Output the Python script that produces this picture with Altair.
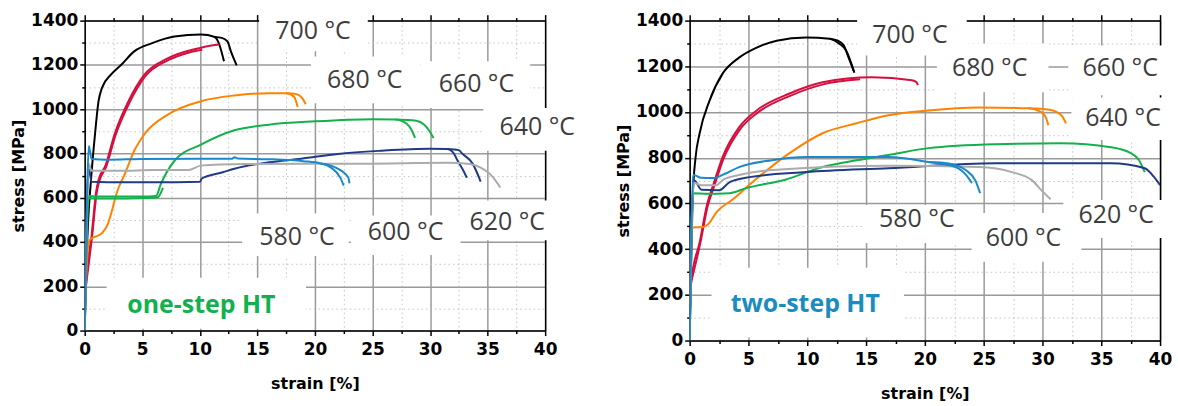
import altair as alt
import pandas as pd

# ---------------- axis ticks ----------------
x_ticks = [0, 2.5, 5, 7.5, 10, 12.5, 15, 17.5, 20, 22.5, 25, 27.5, 30, 32.5, 35, 37.5, 40]
y_ticks = [0, 100, 200, 300, 400, 500, 600, 700, 800, 900, 1000, 1100, 1200, 1300, 1400]

temps = ["700 °C", "680 °C", "660 °C", "640 °C", "620 °C", "600 °C", "580 °C"]
colors_one = ["#000000", "#d4103f", "#ff8200", "#14b04c", "#1f3a86", "#ababab", "#1a88cc"]
colors_two = ["#000000", "#d60b40", "#f8a21e", "#12ad4a", "#213b87", "#8a8a8a", "#1b98d5"]

# ---------------- one-step HT curves ----------------
o700_x = [0.0, 0.15, 0.3, 0.5, 0.9, 1.2, 1.5, 2.3, 3.2, 4.3, 5.8, 7.8, 10.1, 11.3, 11.7, 12.1]
o700_y = [0, 300, 500, 650, 890, 1036, 1096, 1157, 1202, 1261, 1297, 1328, 1337, 1326, 1291, 1216]
o700b_x = [11.3, 11.9, 12.4, 12.7, 13.2]
o700b_y = [1326, 1322, 1306, 1261, 1198]

o680_x = [0.05, 0.15, 0.6, 1.0, 1.2, 1.8, 2.6, 3.8, 5.2, 7.2, 9.8, 11.0, 11.7]
o680_y = [150, 235, 430, 630, 680, 745, 888, 1036, 1157, 1229, 1274, 1288, 1292]
o680b_x = [0.1, 0.65, 1.05, 1.25, 1.85, 2.65, 3.85, 5.25, 7.25, 9.0, 10.2]
o680b_y = [200, 430, 625, 672, 738, 878, 1025, 1148, 1221, 1255, 1268]

o660_x = [0.05, 0.35, 0.6, 1.0, 1.5, 2.0, 2.3, 2.8, 3.5, 4.3, 5.2, 7.3, 10.1, 13.0, 16.0, 17.5, 18.2, 18.5]
o660_y = [150, 400, 417, 425, 440, 480, 529, 625, 709, 812, 888, 978, 1036, 1062, 1072, 1072, 1055, 1010]
o660b_x = [17.5, 18.4, 18.9, 19.2]
o660b_y = [1072, 1068, 1050, 1022]

o640_x = [0.0, 0.2, 0.35, 1.0, 3.0, 5.0, 6.2, 6.6, 7.8, 10.1, 13.0, 16.0, 20.0, 25.0, 27.0, 28.0, 28.4, 28.7]
o640_y = [0, 450, 608, 605, 605, 605, 608, 660, 767, 840, 905, 930, 945, 955, 953, 933, 905, 870]
o640b_x = [27.0, 28.8, 29.5, 29.9, 30.3]
o640b_y = [953, 948, 930, 905, 870]
o640c_x = [0.3, 2.5, 4.5, 6.3, 6.8]
o640c_y = [598, 596, 598, 601, 645]

o620_x = [0.0, 0.2, 0.35, 0.6, 2.0, 5.0, 8.0, 10.0, 10.2, 12.0, 13.0, 16.0, 18.8, 22.0, 25.7, 30.0, 31.5, 32.0, 32.4, 32.9, 33.2]
o620_y = [0, 600, 730, 672, 670, 670, 670, 672, 688, 715, 731, 760, 776, 798, 812, 821, 820, 805, 767, 722, 690]
o620b_x = [31.5, 32.5, 32.8, 33.7, 34.4]
o620b_y = [820, 815, 799, 754, 673]

o600_x = [0.0, 0.2, 0.35, 0.6, 3.0, 6.0, 9.0, 10.1, 14.0, 18.8, 24.0, 31.5, 33.5, 34.4, 35.5, 36.1]
o600_y = [0, 550, 754, 722, 722, 725, 725, 745, 752, 754, 754, 758, 752, 736, 691, 646]

o580_x = [0.0, 0.2, 0.35, 0.6, 2.0, 5.0, 10.0, 12.8, 13.0, 13.3, 16.0, 19.0, 20.5, 21.4, 22.2, 22.5]
o580_y = [0, 600, 834, 775, 772, 775, 776, 776, 783, 777, 774, 765, 755, 736, 691, 655]
o580b_x = [20.5, 21.8, 22.9, 23.0]
o580b_y = [755, 736, 691, 665]

# ---------------- two-step HT curves ----------------
t700_x = [0.0, 0.1, 0.25, 0.5, 0.85, 1.7, 2.8, 4.2, 5.7, 7.4, 9.9, 11.9, 12.7, 13.3, 14.0]
t700_y = [0, 300, 615, 800, 907, 1051, 1168, 1238, 1282, 1312, 1326, 1321, 1300, 1269, 1173]
t700b_x = [11.9, 12.6, 13.1, 13.5, 14.0]
t700b_y = [1321, 1312, 1292, 1240, 1173]

t680_x = [0.05, 0.15, 0.85, 1.5, 2.0, 2.8, 4.2, 5.7, 8.5, 11.3, 15.5, 18.9, 19.3, 19.4]
t680_y = [150, 266, 430, 600, 680, 803, 933, 1007, 1081, 1130, 1152, 1139, 1130, 1117]
t680b_x = [0.1, 0.9, 1.55, 2.05, 2.85, 4.25, 5.75, 8.55, 11.35, 14.5]
t680b_y = [250, 425, 592, 670, 792, 922, 996, 1071, 1121, 1143]

t660_x = [0.0, 0.1, 0.3, 1.1, 1.6, 2.3, 3.6, 5.5, 8.5, 11.3, 14.2, 16.9, 20.3, 24.6, 28.8, 29.9, 30.3, 30.5]
t660_y = [160, 450, 495, 497, 510, 563, 615, 700, 820, 907, 951, 986, 1007, 1020, 1016, 1000, 975, 942]
t660b_x = [28.8, 30.6, 31.6, 32.0]
t660b_y = [1016, 1010, 986, 951]

t640_x = [0.0, 0.15, 0.3, 1.5, 3.4, 4.8, 8.2, 11.3, 14.2, 16.9, 20.3, 26.0, 31.6, 35.8, 37.5, 38.2, 38.7]
t640_y = [0, 500, 645, 642, 645, 667, 705, 759, 789, 812, 842, 859, 863, 846, 820, 790, 737]

t620_x = [0.0, 0.2, 0.4, 1.0, 2.5, 3.4, 5.1, 9.9, 16.9, 26.0, 35.8, 38.7, 39.5, 40.0]
t620_y = [0, 550, 700, 660, 658, 693, 715, 737, 754, 776, 776, 754, 715, 680]

t600_x = [0.0, 0.2, 0.35, 1.0, 2.3, 2.8, 4.2, 7.0, 16.9, 24.6, 27.4, 29.1, 29.9, 30.7]
t600_y = [0, 550, 690, 680, 680, 702, 724, 746, 765, 759, 737, 702, 658, 618]

t580_x = [0.0, 0.15, 0.3, 1.0, 2.0, 3.0, 4.2, 7.0, 9.9, 16.9, 20.3, 22.6, 23.5, 24.0]
t580_y = [0, 500, 725, 712, 711, 730, 759, 789, 803, 803, 781, 759, 725, 689]
t580b_x = [20.3, 22.0, 23.5, 24.3, 24.7]
t580b_y = [781, 775, 745, 700, 645]

# ---------------- labels (order of temps) and label boxes ----------------
one_lab_x = [19.83, 24.33, 34.03, 39.31, 36.71, 27.88, 18.44]
one_lab_y = [1352, 1131, 1113, 920, 489, 444, 422]
one_box_x1 = [15.15, 19.65, 29.18, 34.63, 13.68, 23.12, 32.64, 1.90]
one_box_x2 = [24.59, 29.18, 38.70, 44.07, 22.94, 32.64, 41.47, 19.22]
one_box_y1 = [1262, 1027, 1005, 812, 337, 341, 408, 8]
one_box_y2 = [1485, 1238, 1216, 1005, 529, 520, 588, 238]
one_ht = ["one-step HT", 10.13, 117, "#12b04e"]

two_lab_x = [18.73, 25.51, 36.61, 36.86, 36.27, 28.39, 19.32]
two_lab_y = [1339, 1191, 1191, 973, 549, 449, 532]
two_box_x1 = [14.24, 21.02, 32.2, 32.46, 14.83, 23.98, 31.78, 1.86]
two_box_x2 = [23.56, 30.51, 41.5, 41.5, 24.15, 33.31, 41.5, 18.22]
two_box_y1 = [1247, 1086, 1073, 877, 427, 345, 449, 13]
two_box_y2 = [1487, 1300, 1291, 1064, 593, 558, 615, 318]
two_ht = ["two-step HT", 9.83, 161, "#1a8cc0"]

one_curves = [
    ("700 °C", o700_x, o700_y), ("700 °C", o700b_x, o700b_y),
    ("680 °C", o680_x, o680_y), ("680 °C", o680b_x, o680b_y),
    ("660 °C", o660_x, o660_y), ("660 °C", o660b_x, o660b_y),
    ("640 °C", o640_x, o640_y), ("640 °C", o640b_x, o640b_y), ("640 °C", o640c_x, o640c_y),
    ("620 °C", o620_x, o620_y), ("620 °C", o620b_x, o620b_y),
    ("600 °C", o600_x, o600_y),
    ("580 °C", o580_x, o580_y), ("580 °C", o580b_x, o580b_y),
]
two_curves = [
    ("700 °C", t700_x, t700_y), ("700 °C", t700b_x, t700b_y),
    ("680 °C", t680_x, t680_y), ("680 °C", t680b_x, t680b_y),
    ("660 °C", t660_x, t660_y), ("660 °C", t660b_x, t660b_y),
    ("640 °C", t640_x, t640_y),
    ("620 °C", t620_x, t620_y),
    ("600 °C", t600_x, t600_y),
    ("580 °C", t580_x, t580_y), ("580 °C", t580b_x, t580b_y),
]

AXIS_FONT = "DejaVu Sans"
LABEL_FONT = "Open Sans"


def curve_frame(curves):
    rows = []
    for k, (temp, xs, ys) in enumerate(curves):
        for i, (x, y) in enumerate(zip(xs, ys)):
            rows.append({"curve": k, "temp": temp, "strain": x, "stress": y, "order": i})
    return pd.DataFrame(rows)


def panel(curves, colors, lab_x, lab_y, bx1, bx2, by1, by2, ht, w, h):
    xs = alt.Scale(domain=[0, 40], nice=False, zero=False)
    ys = alt.Scale(domain=[0, 1400], nice=False, zero=False)

    x_major = "datum.value % 5 === 0"
    y_major = "datum.value % 200 === 0"

    bottom_axis = alt.Axis(
        values=x_ticks, labelExpr=f"{x_major} ? format(datum.value, 'd') : ''",
        grid=True,
        gridColor={"condition": {"test": x_major, "value": "#9a9a9a"}, "value": "#c4c4c4"},
        gridDash={"condition": {"test": x_major, "value": []}, "value": [1.5, 3]},
        gridWidth={"condition": {"test": x_major, "value": 1.5}, "value": 1},
        tickSize={"condition": {"test": x_major, "value": 5}, "value": 3},
        tickColor="black", tickWidth=1.5, domainColor="black", domainWidth=1.5,
        labelFont=AXIS_FONT, labelFontSize=17, labelFontWeight="bold", labelColor="black",
        labelPadding=6, labelFlush=False, labelOverlap=False,
        titleFont=AXIS_FONT, titleFontSize=16, titleFontWeight="bold", titleColor="black",
        titlePadding=18,
    )
    left_axis = alt.Axis(
        values=y_ticks, labelExpr=f"{y_major} ? format(datum.value, 'd') : ''",
        grid=True,
        gridColor={"condition": {"test": y_major, "value": "#9a9a9a"}, "value": "#c4c4c4"},
        gridDash={"condition": {"test": y_major, "value": []}, "value": [1.5, 3]},
        gridWidth={"condition": {"test": y_major, "value": 1.5}, "value": 1},
        tickSize={"condition": {"test": y_major, "value": 5}, "value": 3},
        tickColor="black", tickWidth=1.5, domainColor="black", domainWidth=1.5,
        labelFont=AXIS_FONT, labelFontSize=17, labelFontWeight="bold", labelColor="black",
        labelPadding=2, labelFlush=False, labelOverlap=False,
        titleFont=AXIS_FONT, titleFontSize=16, titleFontWeight="bold", titleColor="black",
        titlePadding=4,
    )
    top_axis = alt.Axis(
        orient="top", values=x_ticks, labels=False, grid=False, title=None,
        tickSize={"condition": {"test": x_major, "value": 6}, "value": 3},
        tickColor="black", tickWidth=1.5, domainColor="black", domainWidth=1.5,
    )
    right_axis = alt.Axis(
        orient="right", labels=False, ticks=False, grid=False, title=None,
        domainColor="black", domainWidth=1.5,
    )

    boxes = pd.DataFrame({"x1": bx1, "x2": bx2, "y1": by1, "y2": by2})
    box_layer = alt.Chart(boxes).mark_rect(color="white").encode(
        x=alt.X("x1:Q", scale=xs, axis=top_axis),
        x2="x2:Q",
        y=alt.Y("y1:Q", scale=ys, axis=right_axis),
        y2="y2:Q",
    )

    df = curve_frame(curves)
    lines = alt.Chart(df).mark_line(strokeWidth=2, interpolate="monotone", clip=True).encode(
        x=alt.X("strain:Q", scale=xs, axis=bottom_axis, title="strain [%]"),
        y=alt.Y("stress:Q", scale=ys, axis=left_axis, title="stress [MPa]"),
        color=alt.Color("temp:N", scale=alt.Scale(domain=temps, range=colors), legend=None),
        detail="curve:N",
        order="order:Q",
    )

    labels = pd.DataFrame({"t": temps, "x": lab_x, "y": lab_y})
    text_layer = alt.Chart(labels).mark_text(
        font=LABEL_FONT, fontSize=25, color="#3d3d3d", align="center", baseline="middle"
    ).encode(
        x=alt.X("x:Q", scale=xs, axis=None),
        y=alt.Y("y:Q", scale=ys, axis=None),
        text="t:N",
    )

    htdf = pd.DataFrame({"t": [ht[0]], "x": [ht[1]], "y": [ht[2]]})
    ht_layer = alt.Chart(htdf).mark_text(
        font=LABEL_FONT, fontSize=25, fontWeight="bold", color=ht[3],
        align="center", baseline="middle"
    ).encode(
        x=alt.X("x:Q", scale=xs, axis=None),
        y=alt.Y("y:Q", scale=ys, axis=None),
        text="t:N",
    )

    return alt.layer(box_layer, lines, text_layer, ht_layer).resolve_axis(
        x="independent", y="independent"
    ).properties(width=w, height=h)


left = panel(one_curves, colors_one, one_lab_x, one_lab_y,
             one_box_x1, one_box_x2, one_box_y1, one_box_y2, one_ht, 462, 311)
right = panel(two_curves, colors_two, two_lab_x, two_lab_y,
              two_box_x1, two_box_x2, two_box_y1, two_box_y2, two_ht, 472, 321)

chart = alt.hconcat(left, right, spacing=145, bounds="flush").properties(
    padding={"left": 10, "top": 0, "right": 0, "bottom": 0},
    background="white",
).configure_view(stroke=None)

chart.save("out.html", embed_options={"renderer": "svg", "actions": False})
